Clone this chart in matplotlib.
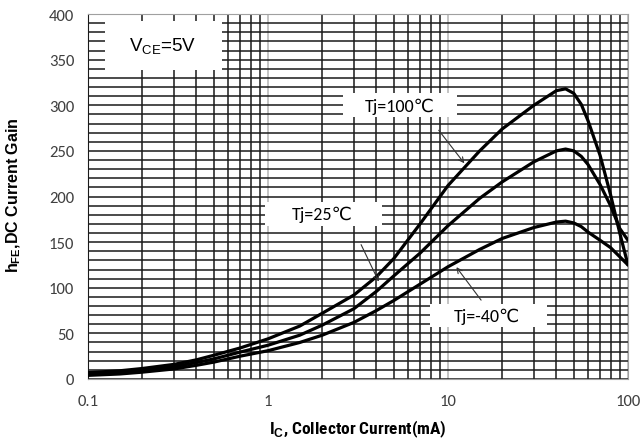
import matplotlib
matplotlib.use("Agg")
import matplotlib.pyplot as plt
from matplotlib.patches import Rectangle
from matplotlib.ticker import FixedLocator, NullFormatter

# collector current, mA
ic = [0.1, 0.15, 0.2, 0.3, 0.4, 0.5, 0.7, 1, 1.5, 2, 3, 4, 5, 7, 10,
      15, 20, 30, 40, 45, 50, 55, 60, 70, 80, 90, 100]

# hFE
hfe_100 = [7, 9, 11.5, 16, 21, 26, 34, 44, 58, 72, 92, 112, 132, 170, 212,
           250, 274, 300, 316, 318, 313, 301, 283, 245, 202, 160, 125]
hfe_25 = [5.5, 7.5, 9.5, 13.5, 18, 22, 29.5, 37, 48, 59, 77, 96, 113, 138, 168,
          198, 216, 238, 250, 252, 250, 244, 235, 213, 190, 165, 152]
hfe_m40 = [4, 5.5, 7.5, 11, 15, 18.5, 25, 31, 40, 48, 62, 75, 86, 104, 123,
           142, 154, 166, 172, 173, 171, 167, 161, 152, 144, 134, 125]

x_ticks = [0.1, 1, 10, 100]
x_tick_labels = ["0.1", "1", "10", "100"]
y_ticks = [0, 50, 100, 150, 200, 250, 300, 350, 400]

plt.rcParams['mathtext.fontset'] = 'custom'
plt.rcParams['mathtext.rm'] = 'Liberation Sans'
plt.rcParams['mathtext.bf'] = 'Liberation Sans:bold'

tj_font = ['Carlito', 'DejaVu Sans']

fig = plt.figure(figsize=(6.41, 4.39), dpi=100)
ax = fig.add_axes([0.1373, 0.1344, 0.8424, 0.8314])
ax.set_axisbelow(True)

ax.set_xscale('log')
ax.set_xlim(0.1, 100)
ax.set_ylim(0, 400)

ax.set_xticks(x_ticks)
ax.set_xticklabels(x_tick_labels)
minors = [m * d for d in [0.1, 1, 10] for m in range(2, 10)]
ax.xaxis.set_minor_locator(FixedLocator(minors))
ax.xaxis.set_minor_formatter(NullFormatter())
ax.set_yticks(y_ticks)
ax.yaxis.set_minor_locator(FixedLocator(list(range(10, 400, 10))))

ax.xaxis.grid(True, which='minor', color='#1a1a1a', lw=1.1)
ax.xaxis.grid(True, which='major', color='#b4b4b4', lw=1.1)
ax.yaxis.grid(True, which='both', color='#1a1a1a', lw=1.1)

ax.tick_params(which='both', length=0)
ax.tick_params(axis='x', pad=11)
ax.tick_params(axis='y', pad=10)
for lab in ax.get_xticklabels() + ax.get_yticklabels():
    lab.set_fontfamily('Carlito')
    lab.set_fontsize(12)
    lab.set_color('#404040')

for s in ['top', 'right', 'bottom']:
    ax.spines[s].set_color('#a0a0a0')
ax.spines['left'].set_color('#1a1a1a')

# curves
for vals in [hfe_100, hfe_25, hfe_m40]:
    ax.plot(ic, vals, color='black', lw=2.3, zorder=4, solid_capstyle='round')

# white label boxes (axes fraction)
boxes = [(0.031, 0.847, 0.217, 0.134),
         (0.472, 0.718, 0.211, 0.066),
         (0.328, 0.419, 0.216, 0.066),
         (0.633, 0.142, 0.217, 0.063)]
for bx, by, bw, bh in boxes:
    ax.add_patch(Rectangle((bx, by), bw, bh, transform=ax.transAxes,
                           facecolor='white', edgecolor='none', zorder=3))

ax.text(0.139, 0.912, r"V$_\mathrm{CE}$=5V", transform=ax.transAxes,
        ha='center', va='center', fontsize=13.5, family='Liberation Sans', zorder=5)
ax.text(0.578, 0.748, "Tj=100℃", transform=ax.transAxes, ha='center',
        va='center', fontsize=13, family=tj_font, zorder=5)
ax.text(0.433, 0.452, "Tj=25℃", transform=ax.transAxes, ha='center',
        va='center', fontsize=13, family=tj_font, zorder=5)
ax.text(0.739, 0.173, "Tj=-40℃", transform=ax.transAxes, ha='center',
        va='center', fontsize=13, family=tj_font, zorder=5)

arrow = dict(arrowstyle='->', lw=0.8, color='#333333', mutation_scale=9)
ax.annotate('', xy=(12.6, 234), xytext=(8.69, 275), arrowprops=arrow, zorder=5)
ax.annotate('', xy=(4.19, 104), xytext=(3.24, 150), arrowprops=arrow, zorder=5)
ax.annotate('', xy=(10.9, 125), xytext=(15.6, 84), arrowprops=arrow, zorder=5)

ax.set_xlabel(r"I$_\mathbf{C}$, Collector Current(mA)", fontsize=12.5,
              fontweight='bold', family='Roboto Condensed')
ax.set_ylabel(r"h$_\mathbf{FE}$,DC Current Gain", fontsize=11.5,
              fontweight='bold', family='Liberation Sans')
ax.xaxis.set_label_coords(0.5, -0.107)
ax.yaxis.set_label_coords(-0.12, 0.507)

fig.savefig("out.png", dpi=100)
